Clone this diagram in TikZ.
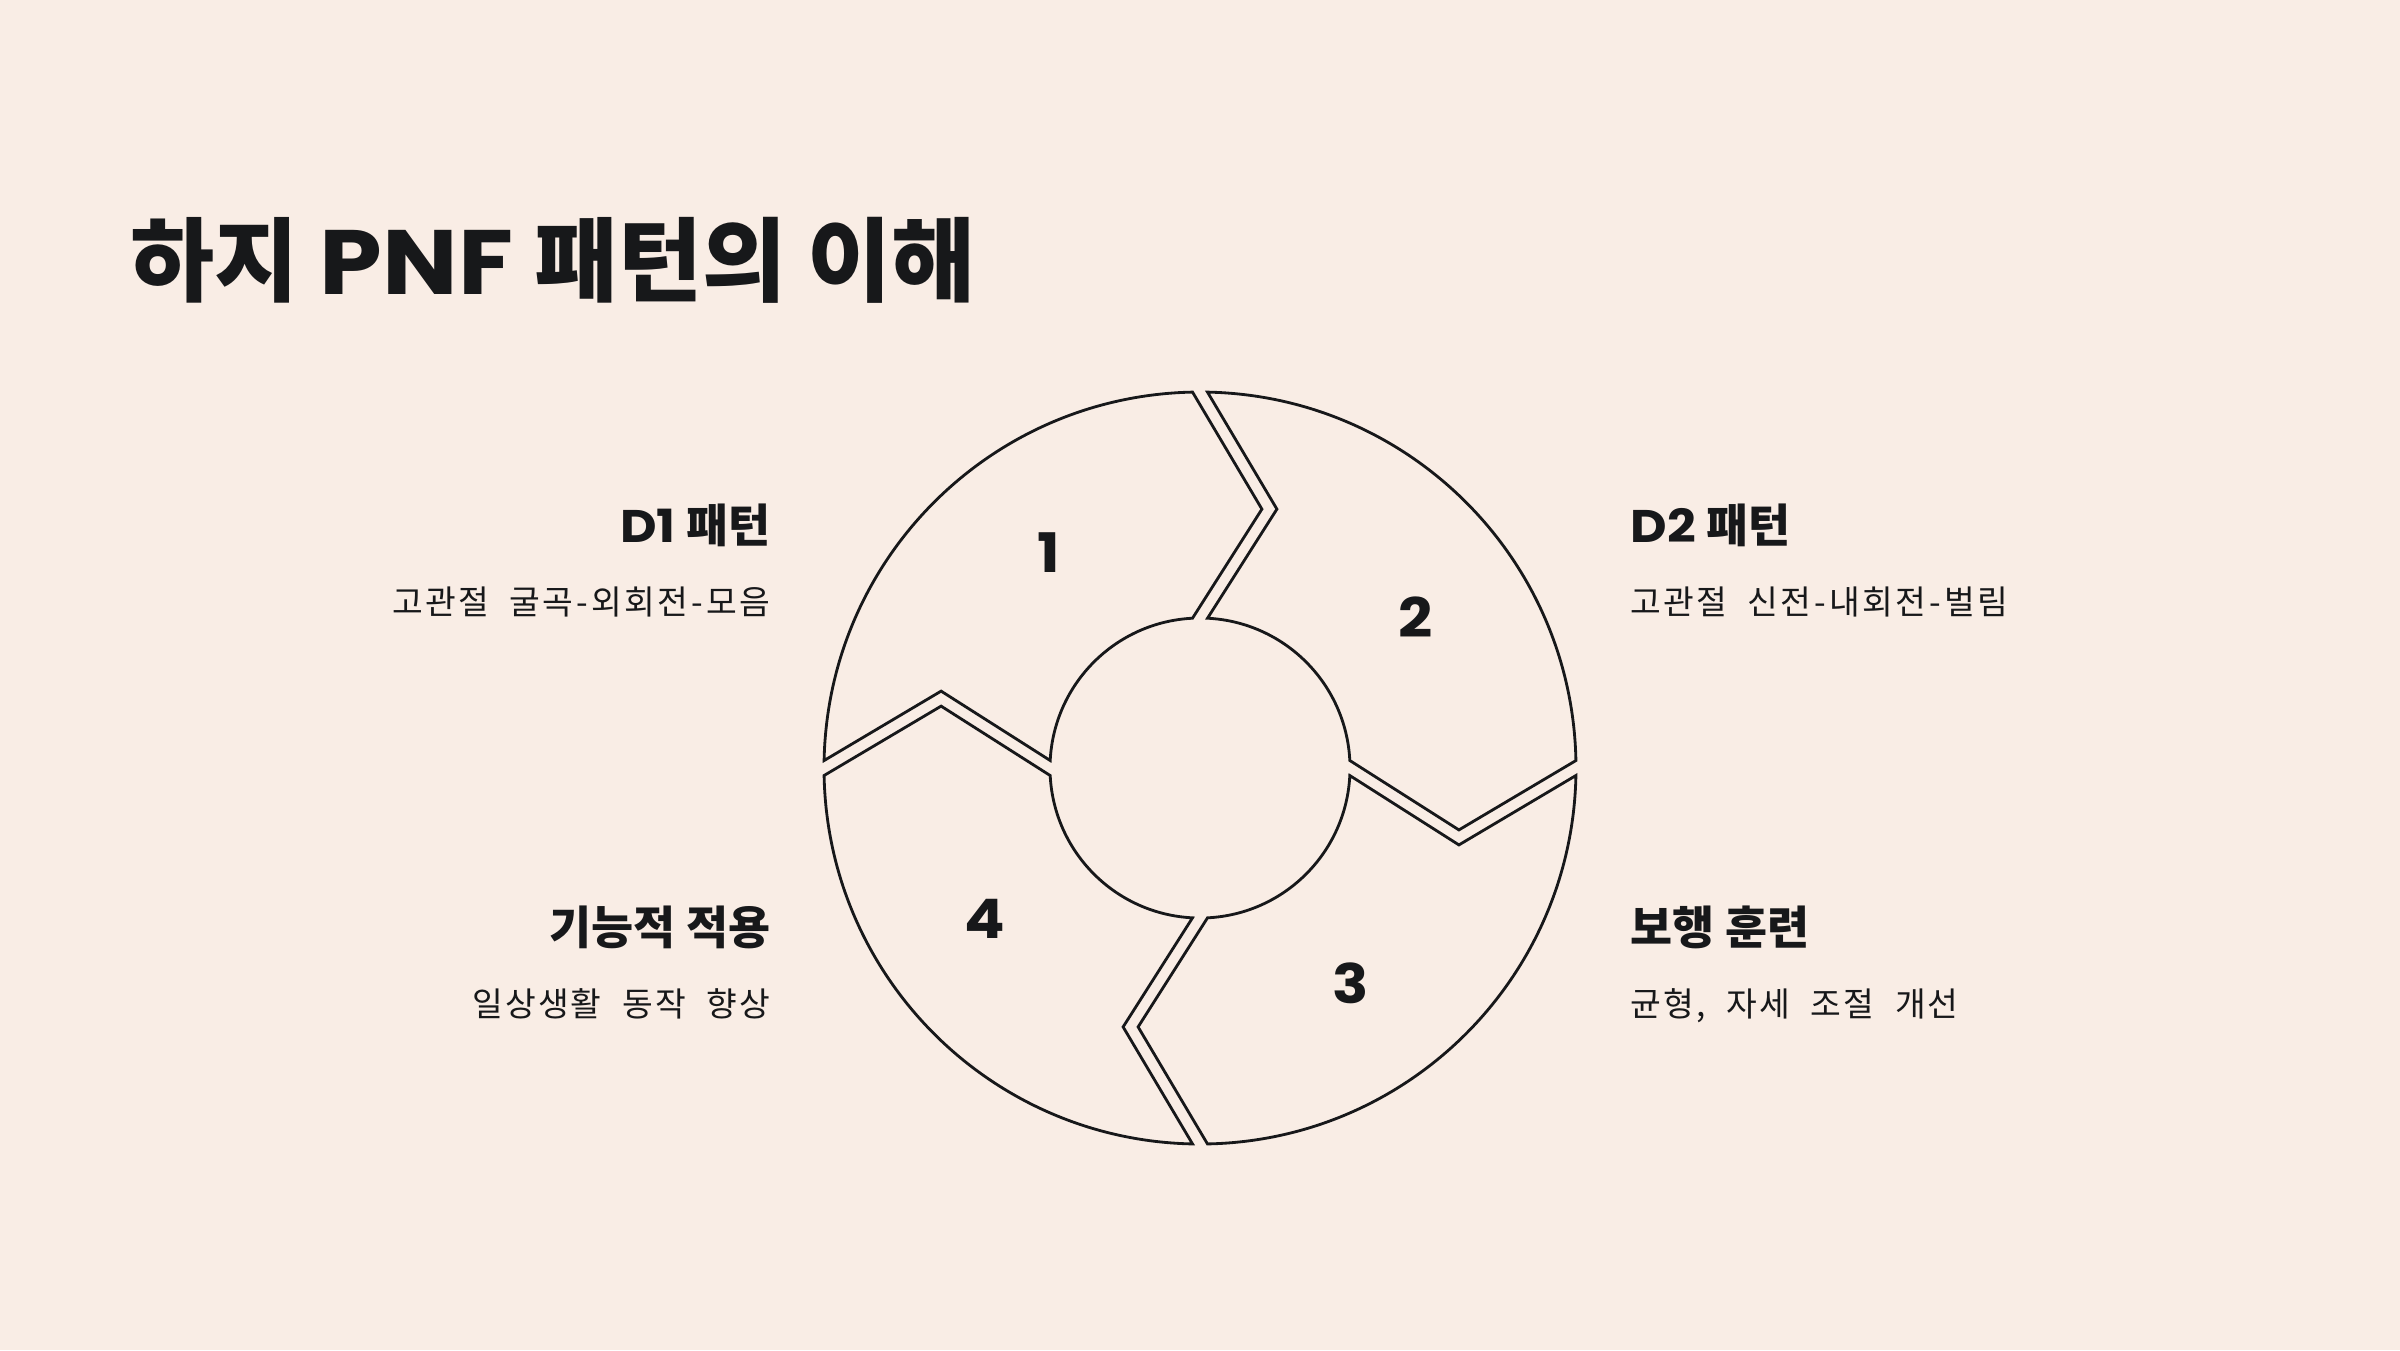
\documentclass[tikz,border=0pt]{standalone}
\usepackage{fontspec}
\setmainfont{Noto Sans CJK KR}
\newfontfamily\latfont{Poppins}[FakeStretch=1.1]
\newfontfamily\subfont{Noto Sans CJK KR}[WordSpace=2.2, LetterSpace=6]
\usepackage{tikz}
\definecolor{bgpeach}{RGB}{249,237,229}
\definecolor{ink}{RGB}{23,24,26}
\newcommand{\dash}{\kern1pt-\kern1pt}

\begin{document}
\begin{tikzpicture}[x=0.01cm, y=-0.01cm,
    head/.style={text=ink, font=\fontsize{13}{15}\selectfont\bfseries, inner sep=0pt},
    sub/.style={text=ink, font=\fontsize{9.5}{11}\subfont, inner sep=0pt},
    num/.style={text=ink, font=\fontsize{15.5}{18}\latfont\bfseries, inner sep=0pt},
    piece/.style={draw=ink, line width=0.8pt}]
    % Sfondo
    \fill[bgpeach] (0,0) rectangle (2400,1350);
    \useasboundingbox (0,0) rectangle (2400,1350);

    % Titolo
    \node[anchor=base west, text=ink, inner sep=0pt, font=\fontsize{26}{30}\selectfont\bfseries]
        (title) at (130,294) {하지 {\latfont PNF} 패턴의 이해};

    % Quattro settori del ciclo
    \coordinate (ctr) at (1200,768);
    \foreach \k in {0,...,3} {
        \begin{scope}[shift={(ctr)}, rotate=-90*\k]
            \draw[piece] (182.87:150) -- (-258.9,-76.9) -- (181.14:376)
                arc[start angle=181.14, end angle=268.86, radius=376]
                -- (61.9,-258.9) -- (267.13:150)
                arc[start angle=267.13, end angle=182.87, radius=150] -- cycle;
        \end{scope}
    }

    % Numeri
    \foreach \k/\n [evaluate=\k as \ang using 235+90*\k] in {0/1,1/2,2/3,3/4}
        \node[num] (n\n) at ([shift={(\ang:263)}]ctr) {\n};

    % Etichette
    \node[head, anchor=base east] (d1) at (771,542) {{\latfont D1} 패턴};
    \node[sub, anchor=base east] (d1s) at (771,614) {고관절 굴곡\dash 외회전\dash 모음};
    \node[head, anchor=base west] (d2) at (1630,542) {{\latfont D2} 패턴};
    \node[sub, anchor=base west] (d2s) at (1630,614) {고관절 신전\dash 내회전\dash 벌림};
    \node[head, anchor=base east] (fn) at (771,944) {기능적 적용};
    \node[sub, anchor=base east] (fns) at (771,1016) {일상생활 동작 향상};
    \node[head, anchor=base west] (gt) at (1630,944) {보행 훈련};
    \node[sub, anchor=base west] (gts) at (1630,1016) {균형, 자세 조절 개선};
\end{tikzpicture}
\end{document}
